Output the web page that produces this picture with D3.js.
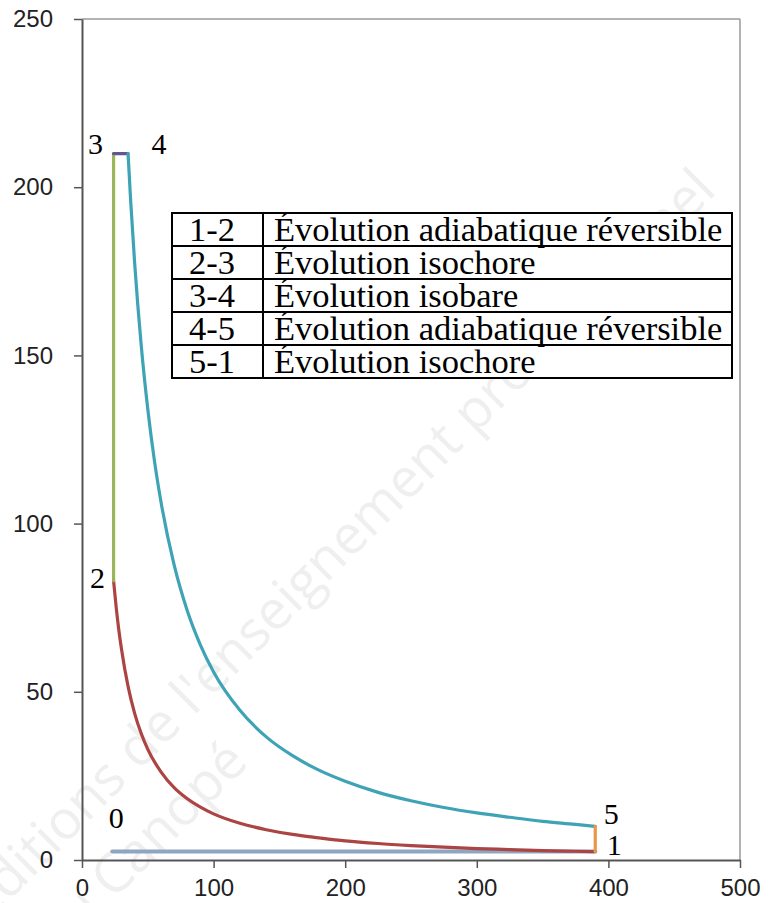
<!DOCTYPE html>
<html>
<head>
<meta charset="utf-8">
<script src="https://cdn.jsdelivr.net/npm/d3@7"></script>
<style>
body { margin: 0; background: #fff; }
svg text { fill: #000; }
</style>
</head>
<body>
<script>
var seg01 = [[23, 2.5], [390, 2.5]];
var seg12 = [[24, 83], [26, 75], [28, 68.3], [30, 62.7], [35, 51.6], [40, 43.6], [45, 37.6], [50, 32.9],
             [60, 26.2], [70, 21.5], [80, 18.2], [90, 15.7], [100, 13.7], [120, 10.9], [140, 9.0],
             [160, 7.6], [180, 6.6], [200, 5.7], [225, 4.9], [250, 4.3], [275, 3.8], [300, 3.4],
             [325, 3.1], [350, 2.8], [375, 2.6], [390, 2.5]];
var seg23 = [[24, 83], [24, 210]];
var seg34 = [[24, 210], [35, 210]];
var seg45 = [[35, 210], [37, 195.8], [40, 177.5], [45, 153], [50, 134], [55, 118.8], [60, 106.5],
             [70, 87.7], [80, 74.1], [90, 63.9], [100, 55.9], [120, 44.5], [140, 36.6], [160, 31.0],
             [180, 26.7], [200, 23.4], [225, 20.1], [250, 17.6], [275, 15.6], [300, 14.0],
             [325, 12.7], [350, 11.5], [375, 10.6], [390, 10.0]];
var seg51 = [[390, 10.0], [390, 2.5]];

var seriesColors = ["#8fa5c0", "#ab4443", "#9bb65a", "#65558f", "#3fa3b6", "#e8984a"];

var xTicks = [0, 100, 200, 300, 400, 500];
var yTicks = [0, 50, 100, 150, 200, 250];

var pointNames = ["0", "1", "2", "3", "4", "5"];
var pointValues = [[23, 2.5], [390, 2.5], [24, 83], [24, 210], [35, 210], [390, 10]];
var pointOffsets = [[4, -34], [19, -7], [-16, -3], [-18, -10], [31, -10], [16, -13]];

var steps = ["1-2", "2-3", "3-4", "4-5", "5-1"];
var stepNames = ["Évolution adiabatique réversible", "Évolution isochore", "Évolution isobare",
                 "Évolution adiabatique réversible", "Évolution isochore"];

var W = 777, H = 903;
var mLeft = 82, mRight = 740, mTop = 19, mBottom = 860;

var svg = d3.select("body").append("svg").attr("width", W).attr("height", H);

var x = d3.scaleLinear().domain([0, 500]).range([mLeft, mRight]);
var y = d3.scaleLinear().domain([0, 250]).range([mBottom, mTop]);

// filigrane
var wm = svg.append("g").attr("font-family", "'Open Sans', sans-serif").attr("font-size", 54);
wm.append("text").attr("transform", "translate(718,192) rotate(-45)")
  .attr("text-anchor", "end").style("fill", "#efefef")
  .text("Éditions de l'enseignement professionnel");
wm.append("text").attr("transform", "translate(250,764) rotate(-45)")
  .attr("text-anchor", "end").style("fill", "#efefef")
  .text("Réseau Canopé");

// cadre
svg.append("line").attr("x1", mLeft).attr("x2", mRight).attr("y1", mTop).attr("y2", mTop)
  .attr("stroke", "#9a9a9a").attr("stroke-width", 1.5);
svg.append("line").attr("x1", mRight).attr("x2", mRight).attr("y1", mTop).attr("y2", mBottom)
  .attr("stroke", "#9a9a9a").attr("stroke-width", 1.5);

var xAxis = svg.append("g").attr("transform", "translate(0," + mBottom + ")")
  .call(d3.axisBottom(x).tickValues(xTicks).tickSize(8).tickSizeOuter(0).tickPadding(11));
var yAxis = svg.append("g").attr("transform", "translate(" + mLeft + ",0)")
  .call(d3.axisLeft(y).tickValues(yTicks).tickSize(8).tickSizeOuter(0).tickPadding(21));
[xAxis, yAxis].forEach(function(a) {
  a.select(".domain").attr("stroke", "#555").attr("stroke-width", 2);
  a.selectAll(".tick line").attr("stroke", "#555").attr("stroke-width", 1.5);
  a.selectAll(".tick text").attr("font-family", "'Liberation Sans', Arial, sans-serif")
    .attr("font-size", 24).style("fill", "#222");
});

// tracés
var straight = d3.line().x(function(d) { return x(d[0]); }).y(function(d) { return y(d[1]); });
var smooth = d3.line().x(function(d) { return x(d[0]); }).y(function(d) { return y(d[1]); })
  .curve(d3.curveMonotoneX);

var segs = [seg01, seg12, seg23, seg34, seg45, seg51];
segs.forEach(function(s, i) {
  var curved = (i == 1 || i == 4);
  svg.append("path")
    .attr("d", curved ? smooth(s) : straight(s))
    .attr("fill", "none")
    .attr("stroke", seriesColors[i])
    .attr("stroke-width", i == 0 ? 4 : 3.2)
    .attr("stroke-linecap", "round")
    .attr("stroke-linejoin", "round");
});

// étiquettes des points
svg.selectAll(".pt").data(pointNames).enter().append("text")
  .attr("class", "pt")
  .attr("x", function(d, i) { return x(pointValues[i][0]) + pointOffsets[i][0]; })
  .attr("y", function(d, i) { return y(pointValues[i][1]) + pointOffsets[i][1]; })
  .attr("text-anchor", "middle").attr("dominant-baseline", "central")
  .attr("font-family", "'Liberation Serif', 'Times New Roman', serif").attr("font-size", 30)
  .text(function(d) { return d; });

// tableau
var tx = 172, ty = 213, tw = 560, rowH = 33, col = 91;
var tab = svg.append("g").attr("font-family", "'Liberation Serif', 'Times New Roman', serif")
  .attr("font-size", 34.5);
tab.append("rect").attr("x", tx).attr("y", ty).attr("width", tw).attr("height", rowH * steps.length)
  .attr("fill", "#fff").attr("stroke", "#000").attr("stroke-width", 2);
tab.append("line").attr("x1", tx + col).attr("x2", tx + col).attr("y1", ty).attr("y2", ty + rowH * steps.length)
  .attr("stroke", "#000").attr("stroke-width", 2);
steps.forEach(function(s, i) {
  if (i > 0) tab.append("line").attr("x1", tx).attr("x2", tx + tw)
    .attr("y1", ty + i * rowH).attr("y2", ty + i * rowH).attr("stroke", "#000").attr("stroke-width", 2);
  tab.append("text").attr("x", tx + 17).attr("y", ty + i * rowH + 28).text(s);
  tab.append("text").attr("x", tx + col + 11).attr("y", ty + i * rowH + 28).text(stepNames[i]);
});
</script>
</body>
</html>
